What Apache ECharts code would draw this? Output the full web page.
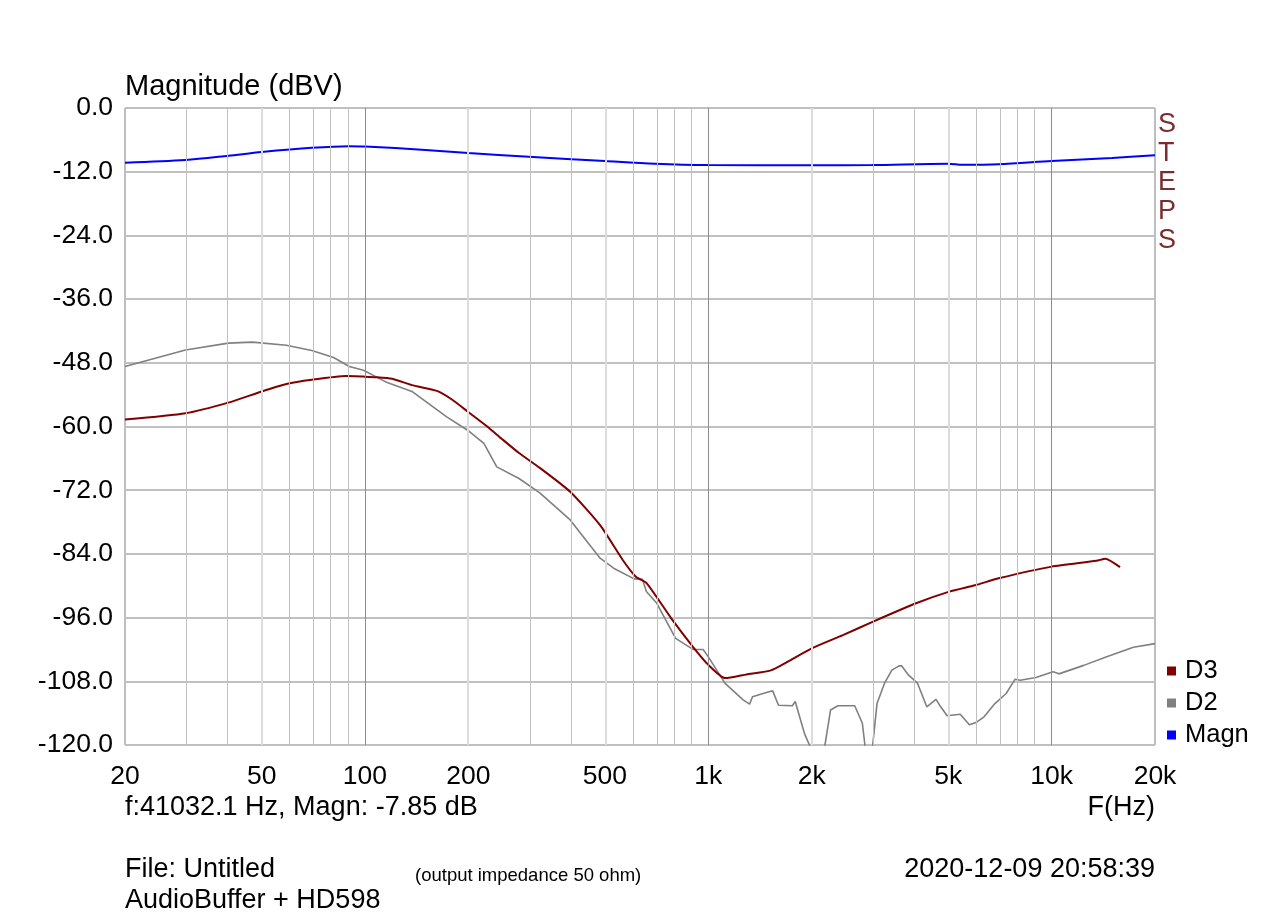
<!DOCTYPE html>
<html>
<head>
<meta charset="utf-8">
<script src="https://cdn.jsdelivr.net/npm/echarts@6/dist/echarts.min.js"></script>
<style>html,body{margin:0;padding:0;background:#fff;}#c{width:1280px;height:918px;}</style>
</head>
<body>
<div id="c"></div>
<script>
// ---- data ----
const xTickFreqs = [20, 50, 100, 200, 500, 1000, 2000, 5000, 10000, 20000];
const yTicks = [0, -12, -24, -36, -48, -60, -72, -84, -96, -108, -120];
const gridFreqs = [30,40,50,60,70,80,90,100,200,300,400,500,600,700,800,900,1000,2000,3000,4000,5000,6000,7000,8000,9000,10000];

const magnFreq = [20,30,40,50,70,90,100,150,200,300,500,700,1000,2000,3000,5000,5500,7000,10000,15000,20000];
const magnDb   = [-10.3,-9.8,-9.0,-8.3,-7.5,-7.2,-7.25,-7.9,-8.5,-9.2,-10.0,-10.5,-10.75,-10.8,-10.75,-10.5,-10.7,-10.6,-10.0,-9.4,-8.9];

const d3Freq = [20,30,40,50,59,70,88,99,108,120,137,162,180,202,227,250,281,323,396,484,564,615,661,781,902,1000,1119,1291,1528,2000,2466,3008,4028,5034,5985,7011,10000,13510,14320,15820];
const d3Db   = [-58.7,-57.5,-55.5,-53.4,-52.0,-51.2,-50.5,-50.6,-50.7,-51.0,-52.2,-53.3,-55.0,-57.5,-60.0,-62.3,-65.0,-67.8,-72.3,-78.6,-85.2,-88.3,-89.5,-96.2,-101.5,-104.9,-107.4,-106.7,-105.9,-101.8,-99.3,-96.8,-93.3,-91.1,-89.9,-88.6,-86.4,-85.3,-84.9,-86.5];

const d2Freq = [20,30,40,47,59,70,81,90,99,115,137,173,199,222,242,281,323,396,484,530,608,643,660,708,803,902,966,1000,1119,1263,1319,1345,1492,1540,1601,1757,1791,1905,2000,2100,2162,2270,2385,2669,2810,2882,2940,2990,3100,3258,3424,3596,3660,3826,4070,4329,4603,4718,4960,5416,5760,6050,6355,6836,7370,7830,8100,9000,10100,10500,12400,14400,17300,20000];
const d2Db   = [-48.7,-45.6,-44.3,-44.1,-44.7,-45.7,-47.0,-48.7,-49.4,-51.6,-53.4,-58.2,-60.7,-63.2,-67.6,-69.8,-72.5,-77.6,-84.8,-86.7,-88.7,-88.8,-91.1,-93.3,-99.9,-102.0,-102.0,-103.4,-108.4,-111.5,-112.3,-110.9,-110.0,-109.8,-112.5,-112.6,-111.8,-117.8,-121,-126,-122,-113.4,-112.6,-112.6,-115.9,-122,-126,-122,-112.2,-108.4,-105.9,-105.1,-105.1,-106.8,-108.4,-112.8,-111.4,-112.5,-114.5,-114.2,-116.2,-115.7,-114.7,-112.2,-110.3,-107.6,-107.8,-107.3,-106.2,-106.6,-105.0,-103.4,-101.6,-100.9];

// ---- helpers ----
const lg = Math.log10;
function pairs(f, v){ return f.map((x,i)=>[lg(x), v[i]]); }
function fmtF(v){
  const f = Math.round(Math.pow(10, v));
  return f >= 1000 ? (f/1000) + 'k' : String(f);
}
const FONT = 'Liberation Sans, Arial, sans-serif';

function gridStyle(f){
  const m = f / Math.pow(10, Math.floor(lg(f) + 1e-9));
  const r = Math.round(m);
  if (r === 1) return {color:'#8c8c8c', width:1, type:'solid'};
  if (r === 2 || r === 5) return {color:'#dcdcdc', width:2, type:'solid'};
  return {color:'#c0c0c0', width:1, type:'solid'};
}

const chart = echarts.init(document.getElementById('c'), null, {renderer:'canvas'});
chart.setOption({
  animation:false,
  backgroundColor:'#fff',
  textStyle:{fontFamily:FONT},
  grid:{left:125, right:125, top:108, bottom:173, show:true, borderColor:'#7f7f7f', borderWidth:1, backgroundColor:'transparent'},
  xAxis:{
    type:'value', min:lg(20), max:lg(20000),
    axisLine:{show:false}, axisTick:{show:false}, splitLine:{show:false},
    axisLabel:{customValues:xTickFreqs.map(lg), formatter:fmtF, fontSize:26.5, color:'#000', margin:18, fontFamily:FONT, showMinLabel:true, showMaxLabel:true}
  },
  yAxis:{
    type:'value', min:-120, max:0, interval:12,
    axisLine:{show:false}, axisTick:{show:false},
    splitLine:{show:true, lineStyle:{color:'#c0c0c0', width:2}},
    axisLabel:{formatter:v=>v.toFixed(1), fontSize:26.5, color:'#000', margin:12, fontFamily:FONT}
  },
  legend:{
    orient:'vertical', left:1162, top:653, itemWidth:9, itemHeight:9, itemGap:6,
    icon:'rect', data:['D3','D2','Magn'],
    textStyle:{fontSize:25.5, color:'#000', fontFamily:FONT, padding:[0,0,0,4]}
  },
  series:[
    {
      name:'grid', type:'line', data:[], silent:true,
      markLine:{
        silent:true, symbol:'none', animation:false,
        label:{show:false},
        data:gridFreqs.map(f=>({xAxis:lg(f), lineStyle:gridStyle(f)}))
      }
    },
    {name:'D2', type:'line', data:pairs(d2Freq,d2Db), showSymbol:false, symbol:'none', clip:true,
     lineStyle:{color:'#808080', width:1.6}, itemStyle:{color:'#808080'}},
    {name:'D3', type:'line', data:pairs(d3Freq,d3Db), showSymbol:false, symbol:'none', clip:true, smooth:0.2,
     lineStyle:{color:'#800000', width:2}, itemStyle:{color:'#800000'}},
    {name:'Magn', type:'line', data:pairs(magnFreq,magnDb), showSymbol:false, symbol:'none', clip:true, smooth:0.3,
     lineStyle:{color:'#0000ff', width:2}, itemStyle:{color:'#0000ff'}}
  ],
  graphic:[
    {type:'text', left:125, top:72, style:{text:'Magnitude (dBV)', font:'29px '+FONT, fill:'#000'}},
    {type:'text', left:1158, top:110, style:{text:'S\nT\nE\nP\nS', font:'27px '+FONT, fill:'#7b2d2d', lineHeight:29}},
    {type:'text', left:125, top:794, style:{text:'f:41032.1 Hz, Magn: -7.85 dB', font:'27px '+FONT, fill:'#000'}},
    {type:'text', right:125, top:794, style:{text:'F(Hz)', font:'27px '+FONT, fill:'#000'}},
    {type:'text', left:125, top:856, style:{text:'File: Untitled', font:'27px '+FONT, fill:'#000'}},
    {type:'text', left:125, top:887, style:{text:'AudioBuffer + HD598', font:'27px '+FONT, fill:'#000'}},
    {type:'text', left:415, top:866, style:{text:'(output impedance 50 ohm)', font:'18.5px '+FONT, fill:'#000'}},
    {type:'text', right:125, top:856, style:{text:'2020-12-09 20:58:39', font:'27px '+FONT, fill:'#000'}}
  ]
});
</script>
</body>
</html>
